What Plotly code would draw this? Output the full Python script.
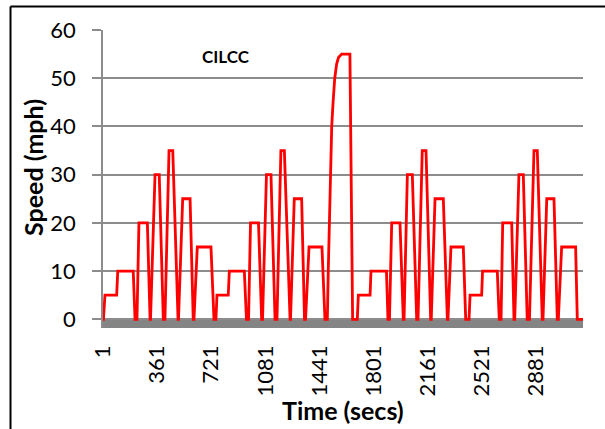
import plotly.graph_objects as go

# ---- data ----
trip1_t = [1, 4, 14, 92, 99, 202, 214, 227, 240, 296, 314, 317, 347, 375, 402, 413,
           440, 465, 500, 503, 531, 580, 601, 606, 628, 719, 739, 752]
trip1_v = [0, 0, 5, 5, 10, 10, 0, 0, 20, 20, 0, 0, 30, 30, 0, 0,
           35, 35, 0, 0, 25, 25, 0, 0, 15, 15, 0, 0]

trip2_t = [759, 834, 841, 941, 955, 969, 982, 1035, 1056, 1062, 1088, 1118, 1145, 1158,
           1184, 1207, 1245, 1248, 1273, 1322, 1341, 1348, 1371, 1457, 1477, 1493]
trip2_v = [5, 5, 10, 10, 0, 0, 20, 20, 0, 0, 30, 30, 0, 0,
           35, 35, 0, 0, 25, 25, 0, 0, 15, 15, 0, 0]

highway_t = [1499, 1506, 1513, 1522, 1531, 1542, 1555, 1567, 1588, 1643, 1661, 1692]
highway_v = [10, 20, 30, 40, 45, 50, 53, 54.3, 55, 55, 0, 0]

trip3_t = [1699, 1777, 1783, 1886, 1896, 1906, 1921, 1976, 1998, 2003, 2025, 2058, 2087, 2096,
           2124, 2149, 2180, 2184, 2209, 2264, 2291, 2295, 2315, 2397, 2413, 2435]
trip3_v = [5, 5, 10, 10, 0, 0, 20, 20, 0, 0, 30, 30, 0, 0,
           35, 35, 0, 0, 25, 25, 0, 0, 15, 15, 0, 0]

trip4_t = [2442, 2519, 2525, 2623, 2636, 2648, 2659, 2719, 2734, 2739, 2767, 2796, 2822, 2837,
           2867, 2889, 2922, 2927, 2952, 3000, 3022, 3029, 3051, 3144, 3155, 3193]
trip4_v = [5, 5, 10, 10, 0, 0, 20, 20, 0, 0, 30, 30, 0, 0,
           35, 35, 0, 0, 25, 25, 0, 0, 15, 15, 0, 0]

x_tick_vals = [1, 361, 721, 1081, 1441, 1801, 2161, 2521, 2881]
y_tick_vals = [0, 10, 20, 30, 40, 50, 60]

time_s = trip1_t + trip2_t + highway_t + trip3_t + trip4_t
speed_mph = trip1_v + trip2_v + highway_v + trip3_v + trip4_v

FONT = "Lato"
GRID = "#8c8c8c"

fig = go.Figure()
fig.add_trace(go.Scatter(
    x=time_s, y=speed_mph, mode="lines",
    line=dict(color="#ff0000", width=2.8),
    showlegend=False, hoverinfo="skip",
))

fig.update_layout(
    width=605, height=429,
    margin=dict(l=103, r=22, t=30, b=101),
    paper_bgcolor="white", plot_bgcolor="white",
    font=dict(family=FONT, color="black"),
    xaxis=dict(
        range=[1, 3193], tickvals=x_tick_vals,
        ticktext=[str(v) for v in x_tick_vals],
        tickangle=-90, showgrid=False, zeroline=False, showline=False,
        ticks="", tickfont=dict(size=22, family=FONT),
        ticklabelstandoff=12,
    ),
    yaxis=dict(
        range=[-1.8, 60], tickvals=y_tick_vals,
        showgrid=True, gridcolor=GRID, gridwidth=1.5,
        zeroline=False, showline=True, linecolor=GRID, linewidth=1.5,
        ticks="outside", ticklen=9, tickcolor=GRID, tickwidth=1.5,
        tickfont=dict(size=22, family=FONT),
        ticklabelstandoff=12,
    ),
    shapes=[
        # thick grey category-axis band
        dict(type="rect", xref="paper", yref="y", x0=0, x1=1, y0=-1.8, y1=0,
             fillcolor="#848484", line=dict(width=0), layer="below"),
        # outer chart frame (left and top edges)
        dict(type="line", xref="paper", yref="paper", x0=-0.1927, x1=-0.1927,
             y0=-0.4, y1=1.0789, line=dict(color="black", width=2)),
        dict(type="line", xref="paper", yref="paper", x0=-0.1927, x1=1.1,
             y0=1.0789, y1=1.0789, line=dict(color="black", width=2)),
    ],
    annotations=[
        dict(text="<b>Speed (mph)</b>", textangle=-90, xref="paper", yref="paper",
             x=-0.1458, y=0.537, xanchor="center", yanchor="middle",
             showarrow=False, font=dict(size=25, family=FONT)),
        dict(text="<b>Time (secs)</b>", xref="paper", yref="paper",
             x=0.5, y=-0.275, xanchor="center", yanchor="middle",
             showarrow=False, font=dict(size=25, family=FONT)),
        dict(text="<b>CILCC</b>", xref="x", yref="y", x=819, y=54.6,
             xanchor="center", yanchor="middle",
             showarrow=False, font=dict(size=17, family=FONT)),
    ],
)

fig.write_html("out.html", config={"displayModeBar": False},
               post_script="document.body.style.margin='0px';")
